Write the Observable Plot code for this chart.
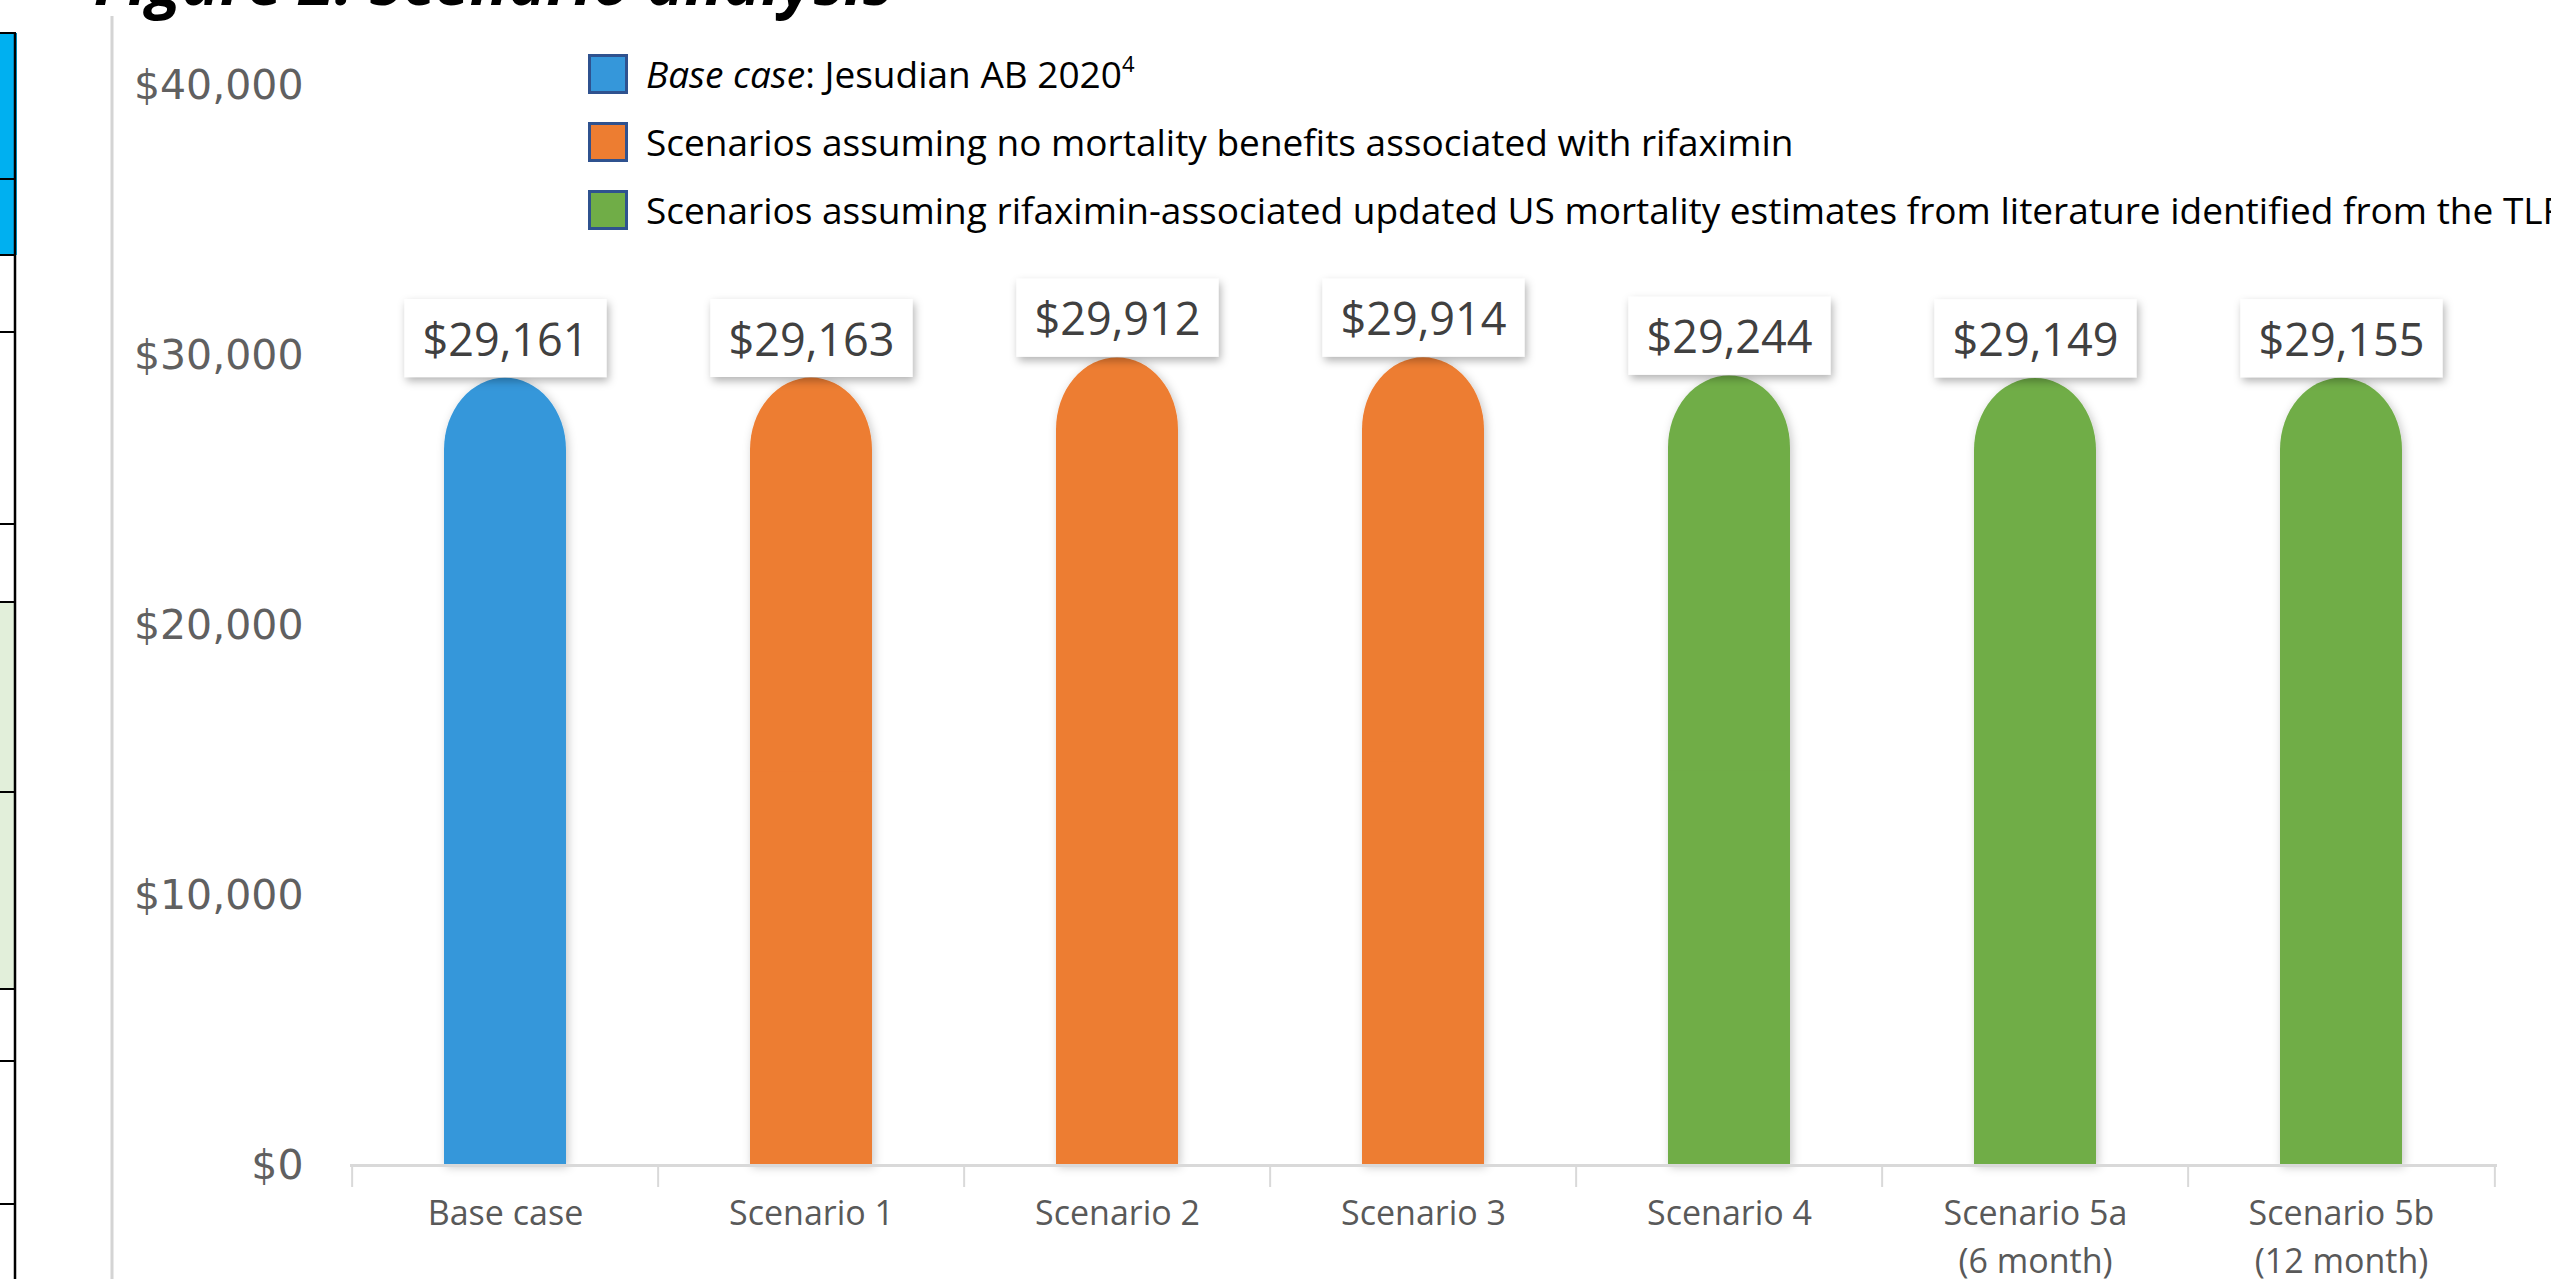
<!DOCTYPE html>
<html>
<head>
<meta charset="utf-8">
<script src="https://cdn.jsdelivr.net/npm/d3@7"></script>
<script src="https://cdn.jsdelivr.net/npm/@observablehq/plot@0.6"></script>
<style>
  html, body { margin: 0; padding: 0; background: #fff; width: 2551px; height: 1279px; overflow: hidden; position: relative; font-family: "Open Sans", sans-serif; }
  #deco { position: absolute; left: 0; top: 0; }
  #chart { position: absolute; left: 0; top: 0; }
  #legend { position: absolute; left: 588px; top: 54px; white-space: nowrap; }
  .leg { display: flex; align-items: center; height: 40px; margin-bottom: 28px; }
  .sw { width: 34px; height: 34px; border: 3px solid #2f528f; box-sizing: content-box; margin-right: 18px; flex: none; }
  .lt { font-size: 37px; color: #000; line-height: 40px; }
  .lt sup { font-size: 22px; line-height: 0; position: relative; top: -3px; }
</style>
</head>
<body>
<svg id="deco" width="2551" height="1279"></svg>
<div id="chart"></div>
<div id="legend"></div>
<script>
// ---- data ----
const categories = ["Base case", "Scenario 1", "Scenario 2", "Scenario 3", "Scenario 4", "Scenario 5a\n(6 month)", "Scenario 5b\n(12 month)"];
const costs = [29161, 29163, 29912, 29914, 29244, 29149, 29155];
const groups = ["base", "none", "none", "none", "updated", "updated", "updated"];
const groupNames = ["base", "none", "updated"];
const groupColors = ["#3597da", "#ed7d31", "#70ad47"];
const legendItalic = ["Base case", "", ""];
const legendText = [": Jesudian AB 2020", "Scenarios assuming no mortality benefits associated with rifaximin", "Scenarios assuming rifaximin-associated updated US mortality estimates from literature identified from the TLR"];
const legendSup = ["4", "", ""];
const yTicks = [0, 10000, 20000, 30000, 40000];
const titleText = "Figure 2: Scenario analysis";

const data = categories.map((c, i) => ({category: c, cost: costs[i], group: groups[i]}));
const money = d => "$" + d3.format(",")(d);

// ---- layout ----
const W = 2551, H = 1279;
const mL = 350, mR = 54, mT = 85, mB = 114;
const step = (W - mL - mR) / categories.length;
const frameH = H - mT - mB;

const chart = Plot.plot({
  width: W,
  height: H,
  marginLeft: mL,
  marginRight: mR,
  marginTop: mT,
  marginBottom: mB,
  style: {background: "transparent", overflow: "visible"},
  x: {domain: categories, paddingInner: 0.6, paddingOuter: 0.3, label: null},
  y: {domain: [0, 40000], label: null},
  color: {domain: groupNames, range: groupColors},
  marks: [
    Plot.axisY({ticks: yTicks, tickSize: 0, tickPadding: 47, tickFormat: money, fontSize: 41, fontFamily: "DejaVu Sans", color: "#606060", label: null}),
    Plot.axisX({tickSize: 0, tickPadding: 26, fontSize: 34, fontFamily: "Open Sans", color: "#595959", lineHeight: 1.4, label: null}),
    Plot.barY(data, {x: "category", y: "cost", fill: "group", rx: 61, ry: 72}),
    Plot.barY(data, {x: "category", y1: 0, y2: d => d.cost / 2, fill: "group"}),
    Plot.ruleY([0], {stroke: "#d9d9d9", strokeWidth: 3}),
    Plot.ruleX(categories, {x: d => d, dx: -step / 2, stroke: "#d9d9d9", strokeWidth: 2, insetTop: frameH, insetBottom: -22}),
    Plot.ruleX(categories.slice(-1), {x: d => d, dx: step / 2, stroke: "#d9d9d9", strokeWidth: 2, insetTop: frameH, insetBottom: -22}),
    Plot.text(data, {x: "category", y: "cost", text: d => money(d.cost), dy: -37, fontSize: 45, fontFamily: "Open Sans", fill: "#404040"})
  ]
});
document.getElementById("chart").appendChild(chart);

// shadows and label boxes
const ns = "http://www.w3.org/2000/svg";
const defs = document.createElementNS(ns, "defs");
defs.innerHTML = `
  <filter id="barShadow" x="-30%" y="-10%" width="160%" height="120%">
    <feDropShadow dx="2" dy="2" stdDeviation="5" flood-color="#000" flood-opacity="0.22"/>
  </filter>
  <filter id="boxShadow" x="-20%" y="-30%" width="140%" height="170%">
    <feDropShadow dx="2" dy="4" stdDeviation="4" flood-color="#000" flood-opacity="0.3"/>
  </filter>`;
chart.insertBefore(defs, chart.firstChild);

const barGroups = Array.from(chart.querySelectorAll('g[aria-label="bar"]'));
if (barGroups.length) {
  const wrap = document.createElementNS(ns, "g");
  wrap.setAttribute("filter", "url(#barShadow)");
  barGroups[0].parentNode.insertBefore(wrap, barGroups[0]);
  barGroups.forEach(g => wrap.appendChild(g));
}

const labelSet = new Set(costs.map(money));
Array.from(chart.querySelectorAll("text"))
  .filter(t => labelSet.has(t.textContent))
  .forEach(t => {
    const bb = t.getBBox();
    const r = document.createElementNS(ns, "rect");
    const tr = t.getAttribute("transform");
    if (tr) r.setAttribute("transform", tr);
    r.setAttribute("x", bb.x + bb.width / 2 - 101);
    r.setAttribute("y", bb.y + bb.height / 2 - 39);
    r.setAttribute("width", 202);
    r.setAttribute("height", 78);
    r.setAttribute("fill", "#fff");
    r.setAttribute("filter", "url(#boxShadow)");
    t.parentNode.insertBefore(r, t);
  });

// legend
const legend = document.getElementById("legend");
groupNames.forEach((g, i) => {
  const row = document.createElement("div");
  row.className = "leg";
  const sw = document.createElement("span");
  sw.className = "sw";
  sw.style.background = groupColors[i];
  const lt = document.createElement("span");
  lt.className = "lt";
  if (legendItalic[i]) { const it = document.createElement("i"); it.textContent = legendItalic[i]; lt.appendChild(it); }
  lt.appendChild(document.createTextNode(legendText[i]));
  if (legendSup[i]) { const s = document.createElement("sup"); s.textContent = legendSup[i]; lt.appendChild(s); }
  row.appendChild(sw);
  row.appendChild(lt);
  legend.appendChild(row);
});

// decorations: clipped title, left table fragment, chart border line
const deco = d3.select("#deco");
deco.append("text").attr("x", 893).attr("y", 5).attr("text-anchor", "end")
  .attr("font-family", "Open Sans").attr("font-weight", "bold").attr("font-style", "italic")
  .attr("font-size", 64).attr("fill", "#000").text(titleText);
deco.append("rect").attr("x", 0).attr("y", 33).attr("width", 17).attr("height", 222).attr("fill", "#00b0f0");
deco.append("rect").attr("x", 0).attr("y", 602).attr("width", 15).attr("height", 387).attr("fill", "#e2efda");
[33, 179, 255, 332, 524, 602, 792, 989, 1061, 1204].forEach(y => {
  deco.append("line").attr("x1", 0).attr("x2", 16).attr("y1", y).attr("y2", y).attr("stroke", "#000").attr("stroke-width", 2);
});
deco.append("line").attr("x1", 15).attr("x2", 15).attr("y1", 33).attr("y2", 1279).attr("stroke", "#000").attr("stroke-width", 2.5);
deco.append("line").attr("x1", 112).attr("x2", 112).attr("y1", 16).attr("y2", 1279).attr("stroke", "#d4d4d4").attr("stroke-width", 3);
</script>
</body>
</html>
